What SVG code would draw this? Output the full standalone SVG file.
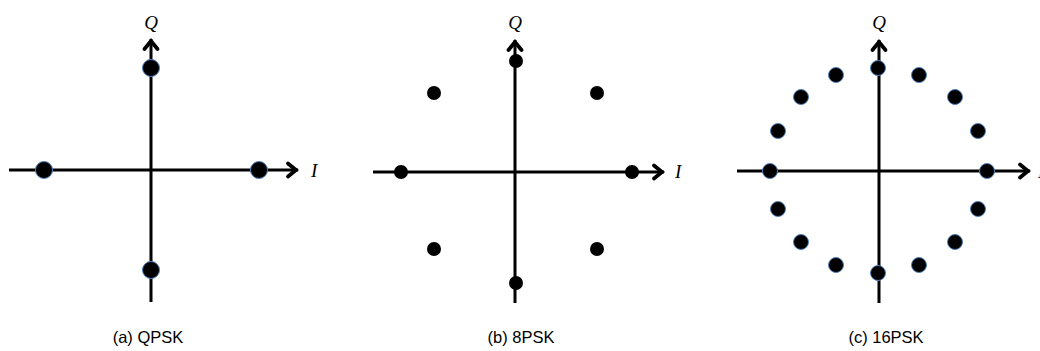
<svg xmlns="http://www.w3.org/2000/svg" width="1040" height="351" viewBox="0 0 1040 351">
<style>
.ax{stroke:#000;stroke-width:3;fill:none;marker-end:url(#arr)}
.pt{fill:#000;stroke:#4f81bd;stroke-width:1}
.pb{fill:#000}
.lab{font-family:"Liberation Serif",serif;font-style:italic;font-size:19px;fill:#000}
.cap{font-family:"Liberation Sans",Arial,sans-serif;font-size:16.5px;fill:#000;text-anchor:middle}
</style>
<defs>
<marker id="arr" markerUnits="userSpaceOnUse" markerWidth="20" markerHeight="20" refX="2" refY="0" viewBox="-12 -10 16 20" orient="auto" overflow="visible">
<path d="M-8,-6.5 L0,0 L-8,6.5" fill="none" stroke="#000" stroke-width="3.8" stroke-linecap="round" stroke-linejoin="miter"/>
</marker>
</defs>
<g id="connectors">
<line class="ax" x1="151" y1="302" x2="151" y2="39"/>
<line class="ax" x1="9" y1="170" x2="298" y2="170"/>
<line class="ax" x1="515" y1="303" x2="515" y2="40"/>
<line class="ax" x1="373" y1="172" x2="664" y2="172"/>
<line class="ax" x1="879" y1="303" x2="879" y2="40"/>
<line class="ax" x1="737" y1="171" x2="1030" y2="171"/>
</g>
<g id="qpsk">
<text class="lab" x="151" y="29" text-anchor="middle">Q</text>
<text class="lab" x="311" y="177">I</text>
<circle class="pt" cx="151" cy="68" r="8.5"/>
<circle class="pt" cx="44" cy="170" r="8.5"/>
<circle class="pt" cx="259" cy="170" r="8.5"/>
<circle class="pt" cx="151" cy="270" r="8.5"/>
<text class="cap" x="148" y="343">(a) QPSK</text>
</g>
<g id="psk8">
<text class="lab" x="515" y="29" text-anchor="middle">Q</text>
<text class="lab" x="675" y="178">I</text>
<circle class="pb" cx="516" cy="61" r="7"/>
<circle class="pb" cx="401" cy="172" r="7"/>
<circle class="pb" cx="632" cy="172" r="7"/>
<circle class="pb" cx="516" cy="283" r="7"/>
<circle class="pb" cx="434" cy="93" r="7"/>
<circle class="pb" cx="597" cy="93" r="7"/>
<circle class="pb" cx="434" cy="249" r="7"/>
<circle class="pb" cx="597" cy="249" r="7"/>
<text class="cap" x="521" y="343">(b) 8PSK</text>
</g>
<g id="psk16">
<text class="lab" x="879" y="29" text-anchor="middle">Q</text>
<text class="lab" x="1038" y="178">I</text>
<circle class="pt" cx="878" cy="68" r="7.5"/>
<circle class="pt" cx="919" cy="75" r="7.5"/>
<circle class="pt" cx="955" cy="97" r="7.5"/>
<circle class="pt" cx="978" cy="131" r="7.5"/>
<circle class="pt" cx="987" cy="171" r="7.5"/>
<circle class="pt" cx="978" cy="209" r="7.5"/>
<circle class="pt" cx="955" cy="242" r="7.5"/>
<circle class="pt" cx="919" cy="265" r="7.5"/>
<circle class="pt" cx="878" cy="273" r="7.5"/>
<circle class="pt" cx="836" cy="265" r="7.5"/>
<circle class="pt" cx="801" cy="242" r="7.5"/>
<circle class="pt" cx="778" cy="209" r="7.5"/>
<circle class="pt" cx="770" cy="171" r="7.5"/>
<circle class="pt" cx="778" cy="131" r="7.5"/>
<circle class="pt" cx="801" cy="97" r="7.5"/>
<circle class="pt" cx="836" cy="75" r="7.5"/>
<text class="cap" x="886" y="343">(c) 16PSK</text>
</g>
</svg>
